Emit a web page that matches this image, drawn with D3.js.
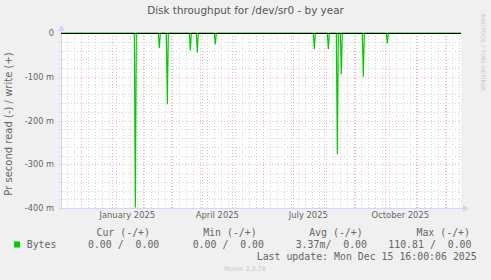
<!DOCTYPE html>
<html lang="en">
<head>
    <meta charset="UTF-8">
    <title>Disk throughput for /dev/sr0 - by year</title>
    <script src="https://d3js.org/d3.v7.min.js"></script>
    <style>
        body { margin: 0; background: #f0f0f0; }
        svg text { fill: #666666; white-space: pre; }
    </style>
</head>

<body>
<svg id="main" width="491" height="280" viewBox="0 0 491 280"></svg>
<script>
    // data (read values are negative, write is flat 0)
    const spikeDates = ['2025-01-24', '2025-02-17', '2025-02-25', '2025-03-20', '2025-03-27', '2025-04-14',
        '2025-07-22', '2025-08-05', '2025-08-14', '2025-08-18', '2025-09-09', '2025-10-03'];
    const spikeValues = [-0.399, -0.034, -0.163, -0.040, -0.045, -0.026,
        -0.037, -0.037, -0.277, -0.094, -0.100, -0.024];
    const yTicks = [0, -0.1, -0.2, -0.3, -0.4];
    const yTickLabels = ['0', '-100 m', '-200 m', '-300 m', '-400 m'];
    const xLabelMonths = ['2025-01-01', '2025-04-01', '2025-07-01', '2025-10-01'];
    const xLabels = ['January 2025', 'April 2025', 'July 2025', 'October 2025'];
    const legendHeaders = ['Cur (-/+)', 'Min (-/+)', 'Avg (-/+)', 'Max (-/+)'];
    const legendValues = ['0.00 /  0.00', '0.00 /  0.00', '3.37m/  0.00', '110.81 /  0.00'];
    const lastUpdate = new Date(Date.UTC(2025, 11, 15, 16, 0, 6));

    let svg = d3.select('svg#main');
    let plot = {left: 61, right: 461, top: 33, bottom: 208};
    const parse = d3.utcParse('%Y-%m-%d');

    // munin year graph shows the last 400 days
    let xScale = d3.scaleUtc()
        .domain([d3.utcDay.offset(lastUpdate, -400), lastUpdate])
        .range([plot.left, plot.right]);
    let yScale = d3.scaleLinear()
        .domain([-0.4, 0])
        .range([plot.bottom, plot.top]);

    // canvas
    svg.append('rect')
        .attr('x', plot.left).attr('y', plot.top)
        .attr('width', plot.right - plot.left).attr('height', plot.bottom - plot.top)
        .attr('fill', '#ffffff');

    // minor grid: weeks and 20 m steps
    const minorColor = '#d4d4d4', majorColor = '#ffb0b0';
    let grid = svg.append('g').attr('shape-rendering', 'crispEdges');
    grid.selectAll('line.wk')
        .data(d3.utcSunday.range(xScale.domain()[0], xScale.domain()[1]))
        .enter().append('line')
        .attr('x1', d => Math.round(xScale(d)) + 0.5).attr('x2', d => Math.round(xScale(d)) + 0.5)
        .attr('y1', plot.top).attr('y2', plot.bottom + 2)
        .attr('stroke', minorColor).attr('stroke-dasharray', '1,2');
    grid.selectAll('line.hm')
        .data(d3.range(-0.4, 0.001, 0.02))
        .enter().append('line')
        .attr('x1', plot.left - 2).attr('x2', plot.right)
        .attr('y1', d => Math.round(yScale(d)) + 0.5).attr('y2', d => Math.round(yScale(d)) + 0.5)
        .attr('stroke', minorColor).attr('stroke-dasharray', '1,2');

    // major grid: months and 100 m steps
    grid.selectAll('line.mo')
        .data(d3.utcMonth.range(xScale.domain()[0], xScale.domain()[1]))
        .enter().append('line')
        .attr('x1', d => Math.round(xScale(d)) + 0.5).attr('x2', d => Math.round(xScale(d)) + 0.5)
        .attr('y1', plot.top).attr('y2', plot.bottom + 2)
        .attr('stroke', majorColor).attr('stroke-dasharray', '1,2');
    grid.selectAll('line.hM')
        .data(yTicks)
        .enter().append('line')
        .attr('x1', plot.left - 2).attr('x2', plot.right)
        .attr('y1', d => Math.round(yScale(d)) + 0.5).attr('y2', d => Math.round(yScale(d)) + 0.5)
        .attr('stroke', majorColor).attr('stroke-dasharray', '1,2');

    // axes with arrows
    const axisColor = '#cfd6f8';
    svg.append('line')
        .attr('x1', plot.left + 0.5).attr('x2', plot.left + 0.5)
        .attr('y1', plot.bottom + 2).attr('y2', plot.top - 3)
        .attr('stroke', axisColor);
    svg.append('path')
        .attr('d', `M${plot.left - 3},${plot.top - 2}L${plot.left + 0.5},${plot.top - 8}L${plot.left + 4},${plot.top - 2}Z`)
        .attr('fill', axisColor);
    svg.append('line')
        .attr('x1', plot.left - 2).attr('x2', plot.right + 3)
        .attr('y1', plot.bottom + 0.5).attr('y2', plot.bottom + 0.5)
        .attr('stroke', axisColor);
    svg.append('path')
        .attr('d', `M${plot.right + 2},${plot.bottom - 3}L${plot.right + 8},${plot.bottom + 0.5}L${plot.right + 2},${plot.bottom + 4}Z`)
        .attr('fill', axisColor);

    // read series: flat 0 with daily spikes
    let readPoints = [[xScale.domain()[0], 0]];
    spikeDates.forEach(function (s, i) {
        let d = parse(s);
        readPoints.push([d3.utcDay.offset(d, -1), 0], [d, spikeValues[i]], [d3.utcDay.offset(d, 1), 0]);
    });
    readPoints.push([xScale.domain()[1], 0]);
    let line = d3.line()
        .x(d => xScale(d[0]))
        .y(d => yScale(d[1]));
    svg.append('path')
        .datum(readPoints)
        .attr('d', line)
        .attr('fill', 'none')
        .attr('stroke', '#00cc00')
        .attr('stroke-width', 1.2);

    // zero line
    svg.append('line')
        .attr('x1', plot.left).attr('x2', plot.right)
        .attr('y1', yScale(0) + 0.5).attr('y2', yScale(0) + 0.5)
        .attr('stroke', '#000')
        .attr('shape-rendering', 'crispEdges');

    // y axis labels
    let yAxis = svg.append('g')
        .attr('transform', 'translate(' + (plot.left - 7) + ',0)')
        .call(d3.axisLeft(yScale).tickValues(yTicks).tickSize(0).tickPadding(0)
            .tickFormat((d, i) => yTickLabels[i]));
    yAxis.select('.domain').remove();
    yAxis.selectAll('text')
        .attr('font-family', 'DejaVu Sans').attr('font-size', 8.2).attr('fill', '#666666');

    // x labels, centred half a month after the month start
    svg.selectAll('text.xl')
        .data(xLabelMonths)
        .enter().append('text')
        .attr('x', d => xScale(d3.utcDay.offset(parse(d), 15)))
        .attr('y', 217.5)
        .attr('text-anchor', 'middle')
        .attr('font-family', 'DejaVu Sans').attr('font-size', 8.4)
        .text((d, i) => xLabels[i]);

    // titles
    svg.append('text')
        .attr('x', 245.5).attr('y', 14)
        .attr('text-anchor', 'middle')
        .attr('font-family', 'DejaVu Sans').attr('font-size', 10.4)
        .style('fill', '#555555')
        .text('Disk throughput for /dev/sr0 - by year');
    svg.append('text')
        .attr('transform', 'translate(11.5,124) rotate(-90)')
        .attr('text-anchor', 'middle')
        .attr('font-family', 'DejaVu Sans').attr('font-size', 10)
        .text('Pr second read (-) / write (+)');
    svg.append('text')
        .attr('transform', 'translate(481,14) rotate(90)')
        .attr('font-family', 'DejaVu Sans').attr('font-size', 6)
        .style('fill', '#cccccc')
        .text('RRDTOOL / TOBI OETIKER');

    // legend
    let legend = svg.append('g')
        .attr('font-family', 'DejaVu Sans Mono').attr('font-size', 9.9);
    legend.append('rect')
        .attr('x', 14).attr('y', 241.5).attr('width', 6).attr('height', 6)
        .attr('fill', '#00cc00');
    legend.append('text').attr('x', 26.7).attr('y', 247.7).text('Bytes');
    const headEnds = [150, 256.7, 362.7, 470];
    const valueEnds = [159.3, 264, 367, 471.5];
    legend.selectAll('text.h')
        .data(legendHeaders)
        .enter().append('text')
        .attr('x', (d, i) => headEnds[i]).attr('y', 235.7)
        .attr('text-anchor', 'end')
        .text(d => d);
    legend.selectAll('text.v')
        .data(legendValues)
        .enter().append('text')
        .attr('xml:space', 'preserve')
        .attr('x', (d, i) => valueEnds[i]).attr('y', 247.7)
        .attr('text-anchor', 'end')
        .text(d => d);
    legend.append('text')
        .attr('x', 476.7).attr('y', 260)
        .attr('text-anchor', 'end')
        .text('Last update: ' + d3.utcFormat('%a %b %d %H:%M:%S %Y')(lastUpdate));

    svg.append('text')
        .attr('x', 245).attr('y', 270.5)
        .attr('text-anchor', 'middle')
        .attr('font-family', 'DejaVu Sans').attr('font-size', 6.4)
        .style('fill', '#c8c8c8')
        .text('Munin 2.0.76');
</script>

</body>
</html>
